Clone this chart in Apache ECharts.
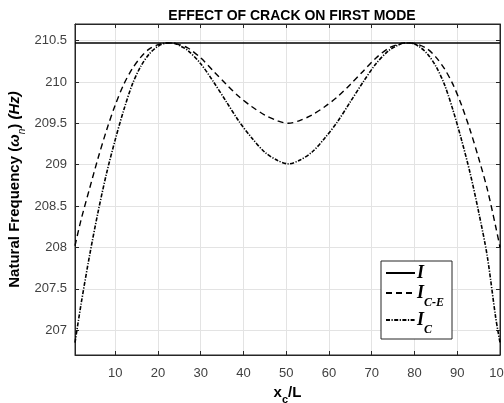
<!DOCTYPE html>
<html>
<head>
<meta charset="utf-8">
<script src="https://cdn.jsdelivr.net/npm/echarts@6/dist/echarts.min.js"></script>
<style>
html, body { margin: 0; padding: 0; background: #fff; }
#mychart { width: 504px; height: 403px; }
</style>
</head>
<body>
<div id="mychart"></div>
<script>
// crack position x_c/L
var xPos = [0.6, 2, 4, 6, 8, 10, 12, 14, 16, 18, 20, 22, 23.5, 25, 27, 30, 33, 36, 39, 42, 45, 48, 50.5,
    53, 56, 59, 62, 65, 68, 71, 74, 76, 77.5, 79, 81, 83, 85, 87, 89, 91, 93, 95, 97, 99, 100];
// I_C-E (dashed)
var freqCE = [208.02, 208.33, 208.71, 209.08, 209.42, 209.72, 209.97, 210.16, 210.30, 210.40, 210.45, 210.47, 210.47,
    210.45, 210.41, 210.29, 210.13, 209.97, 209.82, 209.70, 209.60, 209.53, 209.50,
    209.53, 209.60, 209.70, 209.82, 209.97, 210.13, 210.29, 210.41, 210.45, 210.47, 210.47, 210.45, 210.40,
    210.30, 210.16, 209.97, 209.72, 209.42, 209.08, 208.71, 208.25, 208.00];
// I_C (dash-dot)
var freqC = [206.85, 207.31, 207.90, 208.43, 208.90, 209.30, 209.66, 209.97, 210.19, 210.34, 210.43, 210.47, 210.47,
    210.44, 210.38, 210.22, 210.00, 209.76, 209.52, 209.32, 209.15, 209.05, 209.01,
    209.05, 209.15, 209.32, 209.52, 209.76, 210.00, 210.22, 210.38, 210.44, 210.47, 210.47, 210.43, 210.34,
    210.19, 209.97, 209.66, 209.30, 208.90, 208.43, 207.90, 207.15, 206.85];
// I (intact, solid)
var intactX = [0.6, 100];
var intactY = [210.47, 210.47];

var xTicks = [10, 20, 30, 40, 50, 60, 70, 80, 90, 100];
var yTicks = [207, 207.5, 208, 208.5, 209, 209.5, 210, 210.5];

function toPairs(xs, ys) {
    var arr = [];
    for (var i = 0; i < xs.length; i++) {
        arr.push([xs[i], ys[i]]);
    }
    return arr;
}

var axisColor = '#262626';
var myChart = echarts.init(document.getElementById('mychart'));

var serifRich = {
    i: { fontFamily: 'Liberation Serif', fontStyle: 'italic', fontWeight: 'bold', fontSize: 18, color: '#000', lineHeight: 22, verticalAlign: 'middle' },
    s: { fontFamily: 'Liberation Serif', fontStyle: 'italic', fontWeight: 'bold', fontSize: 12, color: '#000', lineHeight: 22, verticalAlign: 'bottom', padding: [0, 0, -5, 0] }
};

myChart.setOption({
    animation: false,
    title: {
        text: 'EFFECT OF CRACK ON FIRST MODE',
        left: 287,
        textAlign: 'center',
        top: 4,
        textStyle: { fontFamily: 'Liberation Sans', fontSize: 14, fontWeight: 'bold', color: '#000' }
    },
    grid: {
        left: 75,
        right: 4,
        top: 24,
        bottom: 48,
        outerBoundsMode: 'none',
        containLabel: false,
        show: true,
        borderColor: axisColor,
        borderWidth: 1
    },
    legend: {
        orient: 'vertical',
        left: 381,
        top: 261,
        padding: [3, 8, 3, 4],
        itemGap: 2,
        itemWidth: 29,
        itemHeight: 22,
        borderColor: axisColor,
        borderWidth: 1,
        backgroundColor: '#fff',
        itemStyle: { opacity: 0, borderWidth: 0 },
        data: ['I', 'I_C-E', 'I_C'],
        formatter: function (name) {
            if (name === 'I') return '{i|I}';
            if (name === 'I_C-E') return '{i|I}{s|C-E}';
            return '{i|I}{s|C}';
        },
        textStyle: { rich: serifRich, padding: [0, 0, 0, -3] }
    },
    xAxis: [{
        type: 'value',
        min: 0.6,
        max: 100,
        name: '{b|x}{c|c}{b|/L}',
        nameLocation: 'middle',
        nameGap: 28,
        nameTextStyle: {
            rich: {
                b: { fontFamily: 'Liberation Sans', fontWeight: 'bold', fontSize: 15, color: '#000', lineHeight: 18, verticalAlign: 'middle' },
                c: { fontFamily: 'Liberation Sans', fontWeight: 'bold', fontSize: 11, color: '#000', lineHeight: 18, verticalAlign: 'bottom', padding: [0, 0, -4, 0] }
            }
        },
        axisLine: { lineStyle: { color: axisColor } },
        axisTick: { inside: true, length: 4, customValues: xTicks, lineStyle: { color: axisColor } },
        axisLabel: { customValues: xTicks, fontFamily: 'Liberation Sans', fontSize: 13, color: '#404040', margin: 12 },
        splitLine: { show: true, lineStyle: { color: '#e3e3e3' } }
    }, {
        type: 'value',
        position: 'top',
        min: 0.6,
        max: 100,
        axisLine: { lineStyle: { color: axisColor } },
        axisTick: { inside: true, length: 4, customValues: xTicks, lineStyle: { color: axisColor } },
        axisLabel: { show: false },
        splitLine: { show: false }
    }],
    yAxis: [{
        type: 'value',
        min: 206.7,
        max: 210.7,
        name: '{b|Natural Frequency (}{it|ω}{sub|n}{b|) }{it|(Hz)}',
        nameLocation: 'middle',
        nameGap: 51,
        nameMoveOverlap: false,
        nameTextStyle: {
            rich: {
                b: { fontFamily: 'Liberation Sans', fontWeight: 'bold', fontSize: 15, color: '#000', lineHeight: 18, verticalAlign: 'middle' },
                it: { fontFamily: 'Liberation Sans', fontWeight: 'bold', fontStyle: 'italic', fontSize: 15, color: '#000', lineHeight: 18, verticalAlign: 'middle' },
                sub: { fontFamily: 'Liberation Sans', fontStyle: 'italic', fontSize: 10, color: '#000', lineHeight: 18, verticalAlign: 'bottom', padding: [0, 0, -3, 0] }
            }
        },
        axisLine: { lineStyle: { color: axisColor } },
        axisTick: { inside: true, length: 4, customValues: yTicks, lineStyle: { color: axisColor } },
        axisLabel: { customValues: yTicks, fontFamily: 'Liberation Sans', fontSize: 13, color: '#404040', margin: 8 },
        splitLine: { show: true, lineStyle: { color: '#e3e3e3' } }
    }, {
        type: 'value',
        position: 'right',
        min: 206.7,
        max: 210.7,
        axisLine: { lineStyle: { color: axisColor } },
        axisTick: { inside: true, length: 4, customValues: yTicks, lineStyle: { color: axisColor } },
        axisLabel: { show: false },
        splitLine: { show: false }
    }],
    series: [
        {
            name: 'I',
            type: 'line',
            symbol: 'none',
            data: toPairs(intactX, intactY),
            lineStyle: { color: '#000', width: 1.6, type: 'solid' },
            itemStyle: { color: '#000' }
        },
        {
            name: 'I_C-E',
            type: 'line',
            symbol: 'none',
            smooth: 0.3,
            data: toPairs(xPos, freqCE),
            lineStyle: { color: '#000', width: 1.4, type: [6, 4] },
            itemStyle: { color: '#000' }
        },
        {
            name: 'I_C',
            type: 'line',
            symbol: 'none',
            smooth: 0.3,
            data: toPairs(xPos, freqC),
            lineStyle: { color: '#000', width: 1.6, type: [4, 1.5, 1.2, 1.5] },
            itemStyle: { color: '#000' }
        }
    ]
});
</script>
</body>
</html>
